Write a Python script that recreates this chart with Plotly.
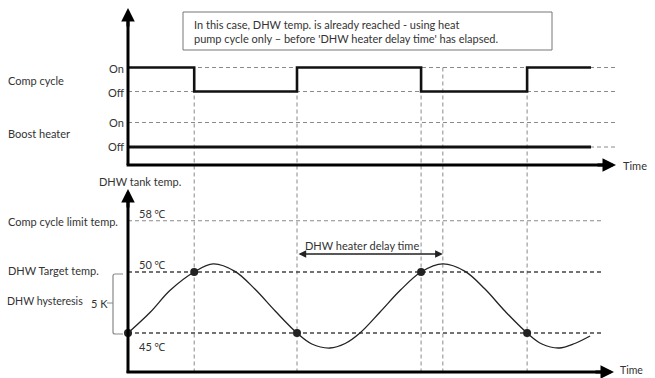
import plotly.graph_objects as go

# ---------------- data (time in arbitrary units, temperature in deg C) ----------------
comp_switch_times = [0, 14.3, 36.5, 63.3, 86.2, 100.0]
comp_states = [1, 0, 1, 0, 1, 1]          # 1 = On, 0 = Off
boost_times = [0, 100.0]
boost_states = [0, 0]
delay_start = 36.5
delay_end = 68.0

curve_t = [0, 4.8, 9.1, 14.3, 18.4, 23.1, 27.4, 31.8, 36.5, 39.7, 43.6, 46.9, 50.1,
           54.4, 58.8, 63.3, 68.0, 72.8, 77.1, 81.4, 86.2, 89.4, 93.1, 96.5, 99.8]
curve_temp = [45.0, 46.7, 48.5, 50.0, 50.66, 50.05, 48.6, 46.8, 45.0, 44.1, 43.77, 44.14, 45.0,
              46.7, 48.5, 50.0, 50.66, 50.05, 48.6, 46.8, 45.0, 44.1, 43.77, 44.14, 44.75]
dot_t = [0, 14.3, 36.5, 63.3, 86.2]
dot_temp = [45.0, 50.0, 45.0, 50.0, 45.0]

temp_labels = ["58 ℃", "50 ℃", "45 ℃"]
temp_levels = [54.2, 50.0, 45.0]          # 58 °C line is drawn schematically
row_labels = ["Comp cycle", "Boost heater"]
state_labels = ["On", "Off"]
box_text = ("In this case, DHW temp. is already reached - using heat<br>"
            "pump cycle only – before 'DHW heater delay time' has elapsed.")

# ---------------- layout helpers ----------------
W, H = 655, 378
X0 = 128.0
PX_PER_T = 4.63
def tx(px):  # pixel -> time units
    return (px - X0) / PX_PER_T
def py(p):   # pixel -> paper y
    return 1 - p / H
def pxp(p):  # pixel -> paper x
    return p / W

FONT = "Lato, 'Noto Sans', sans-serif"
FS = 11
TXT = "#333333"
GRID = "#8a8a8a"
DASH = "4px,3px"

fig = go.Figure()

# compressor signal
fig.add_trace(go.Scatter(x=comp_switch_times, y=comp_states, mode="lines",
                         line=dict(shape="hv", color="#111111", width=2.6),
                         yaxis="y", hoverinfo="skip"))
# boost heater signal
fig.add_trace(go.Scatter(x=boost_times, y=boost_states, mode="lines",
                         line=dict(color="#111111", width=2.8),
                         yaxis="y2", hoverinfo="skip"))
# tank temperature curve
fig.add_trace(go.Scatter(x=curve_t, y=curve_temp, mode="lines",
                         line=dict(shape="spline", smoothing=1.0, color="#222222", width=1.3),
                         yaxis="y3", hoverinfo="skip"))
fig.add_trace(go.Scatter(x=dot_t, y=dot_temp, mode="markers",
                         marker=dict(size=8, color="#222222"),
                         yaxis="y3", hoverinfo="skip", cliponaxis=False))

shapes = []
end_top = tx(615)
end_bot = tx(602)
# top dashed level lines
for yr in ("y", "y2"):
    for lv in (1, 0):
        shapes.append(dict(type="line", xref="x", yref=yr, x0=0, x1=end_top, y0=lv, y1=lv,
                           line=dict(color=GRID, width=1, dash=DASH), layer="below"))
# temperature reference lines
for lv, col, wd in zip(temp_levels, [GRID, "#444444", "#444444"], [1, 1.3, 1.3]):
    shapes.append(dict(type="line", xref="x", yref="y3", x0=0, x1=end_bot, y0=lv, y1=lv,
                       line=dict(color=col, width=wd, dash=DASH), layer="below"))
# vertical dashed lines at switching moments and end of delay time
for t in comp_switch_times[1:5] + [delay_end]:
    shapes.append(dict(type="line", xref="x", yref="paper", x0=t, x1=t,
                       y0=py(67.5), y1=py(372), line=dict(color=GRID, width=1, dash=DASH),
                       layer="below"))
# axes lines (thick)
shapes.append(dict(type="line", xref="x", yref="paper", x0=0, x1=0, y0=py(165), y1=py(14),
                   line=dict(color="black", width=3)))
shapes.append(dict(type="line", xref="x", yref="paper", x0=0, x1=0, y0=py(373), y1=py(196),
                   line=dict(color="black", width=3)))
shapes.append(dict(type="line", xref="x", yref="paper", x0=-0.3, x1=tx(608), y0=py(165), y1=py(165),
                   line=dict(color="black", width=3)))
shapes.append(dict(type="line", xref="x", yref="paper", x0=-0.3, x1=tx(606), y0=py(372), y1=py(372),
                   line=dict(color="black", width=3)))
# text box
shapes.append(dict(type="rect", xref="paper", yref="paper", x0=pxp(183), x1=pxp(552),
                   y0=py(12), y1=py(50), line=dict(color="#777777", width=1),
                   fillcolor="white"))
# brace for hysteresis
def P(a, b):
    return f"{pxp(a):.5f},{py(b):.5f}"
brace = (f"M{P(123,274)} L{P(115,274)} Q{P(113,274)} {P(113,276)} L{P(113,332)} "
         f"Q{P(113,334)} {P(115,334)} L{P(123,334)} M{P(107,303)} L{P(113,303)}")
shapes.append(dict(type="path", xref="paper", yref="paper", path=brace,
                   line=dict(color="#888888", width=1.2)))

ann = []
def label(text, x, y, anchor="left", size=FS):
    ann.append(dict(text=text, xref="paper", yref="paper", x=pxp(x), y=py(y),
                    xanchor=anchor, yanchor="middle", showarrow=False,
                    font=dict(family=FONT, size=size, color=TXT)))

label(row_labels[0], 6, 80)
label(row_labels[1], 6, 133)
label(state_labels[0], 107, 68)
label(state_labels[1], 106, 92)
label(state_labels[0], 107, 123)
label(state_labels[1], 106, 147)
label("Time", 621, 166)
label("DHW tank temp.", 97, 182)
label("Comp cycle limit temp.", 6, 221)
label("DHW Target temp.", 6, 270)
label("DHW hysteresis", 5, 301, size=10.6)
label("5 K", 89, 303)
for txt, ypix in zip(temp_labels, [213, 264, 346]):
    label(txt, 137, ypix)
label("DHW heater delay time", 362, 245, anchor="center")
label("Time", 618, 370, size=10.5)
ann.append(dict(text=box_text, xref="paper", yref="paper", x=pxp(192), y=py(31.5),
                xanchor="left", yanchor="middle", align="left", showarrow=False,
                font=dict(family=FONT, size=FS, color=TXT)))

# axis arrowheads
ann.append(dict(text="", x=0, y=py(8), xref="x", yref="paper", ax=0, ay=20,
                axref="pixel", ayref="pixel", showarrow=True, arrowhead=2,
                arrowsize=0.9, arrowwidth=3, arrowcolor="black"))
ann.append(dict(text="", x=0, y=py(189), xref="x", yref="paper", ax=0, ay=20,
                axref="pixel", ayref="pixel", showarrow=True, arrowhead=2,
                arrowsize=0.9, arrowwidth=3, arrowcolor="black"))
ann.append(dict(text="", x=tx(616), y=py(165), xref="x", yref="paper", ax=-20, ay=0,
                axref="pixel", ayref="pixel", showarrow=True, arrowhead=2,
                arrowsize=0.9, arrowwidth=3, arrowcolor="black"))
ann.append(dict(text="", x=tx(614), y=py(372), xref="x", yref="paper", ax=-20, ay=0,
                axref="pixel", ayref="pixel", showarrow=True, arrowhead=2,
                arrowsize=0.9, arrowwidth=3, arrowcolor="black"))
# delay time double arrow
delay_y = 50 - (254 - 272) / 12.2
ann.append(dict(text="", x=delay_end, y=delay_y, xref="x", yref="y3",
                ax=delay_start, ay=delay_y, axref="x", ayref="y3",
                showarrow=True, arrowhead=2, startarrowhead=2, arrowside="end+start",
                arrowsize=1.1, startarrowsize=1.1, arrowwidth=1.4, arrowcolor="#222222"))

# axis ranges so that 1 unit maps to the reference's pixel layout
comp_rng = [-(H - 91.5) / 24.0, 91.5 / 24.0]
boost_rng = [-(H - 147.0) / 24.5, 147.0 / 24.5]
temp_rng = [45 - (H - 333) / 12.2, 50 + 272 / 12.2]

fig.update_layout(
    width=W, height=H, margin=dict(l=0, r=0, t=0, b=0),
    paper_bgcolor="white", plot_bgcolor="white", showlegend=False,
    xaxis=dict(range=[tx(0), tx(W)], visible=False, fixedrange=True),
    yaxis=dict(range=comp_rng, visible=False, fixedrange=True),
    yaxis2=dict(range=boost_rng, visible=False, overlaying="y", fixedrange=True),
    yaxis3=dict(range=temp_rng, visible=False, overlaying="y", fixedrange=True),
    shapes=shapes, annotations=ann,
)

fig.write_html("out.html", config={"displayModeBar": False},
               post_script="document.body.style.margin='0';document.body.style.overflow='hidden';")
